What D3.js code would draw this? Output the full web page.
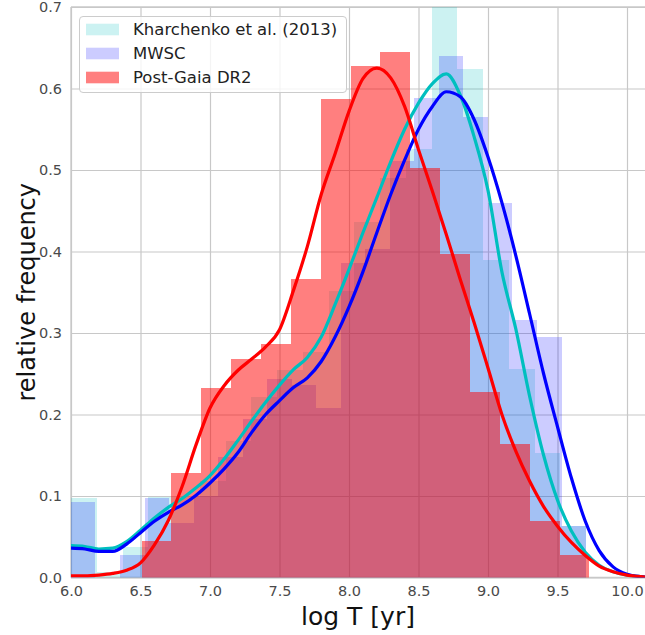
<!DOCTYPE html>
<html>
<head>
<meta charset="utf-8">
<script src="https://cdn.jsdelivr.net/npm/d3@7"></script>
<style>
  html, body { margin: 0; padding: 0; background: #ffffff; }
  svg { display: block; }
  text { font-family: "DejaVu Sans", sans-serif; }
</style>
</head>
<body>
<svg id="chart" width="645" height="635"></svg>
<script>
// ---------------- data ----------------
const seriesNames = ["Kharchenko et al. (2013)", "MWSC", "Post-Gaia DR2"];

// Kharchenko et al. (2013): 20 bins
const kharEdges = [6.000, 6.185, 6.371, 6.556, 6.741, 6.926, 7.112, 7.297, 7.482, 7.667,
                   7.853, 8.038, 8.223, 8.408, 8.594, 8.779, 8.964, 9.149, 9.335, 9.520, 9.705];
const kharHeights = [0.097, 0.007, 0.038, 0.099, 0.099, 0.118, 0.168, 0.222, 0.255, 0.277,
                     0.351, 0.436, 0.490, 0.526, 0.705, 0.624, 0.390, 0.256, 0.153, 0.063];

// MWSC: 21 bins
const mwscEdges = [6.000, 6.176, 6.353, 6.529, 6.706, 6.882, 7.059, 7.235, 7.412, 7.588, 7.765,
                   7.941, 8.117, 8.294, 8.470, 8.647, 8.823, 9.000, 9.176, 9.353, 9.529, 9.705];
const mwscHeights = [0.093, 0.000, 0.027, 0.098, 0.067, 0.100, 0.148, 0.195, 0.244, 0.236, 0.208,
                     0.386, 0.403, 0.511, 0.588, 0.640, 0.565, 0.459, 0.316, 0.295, 0.063];

// Post-Gaia DR2: 15 bins
const gaiaEdges = [6.508, 6.723, 6.938, 7.152, 7.367, 7.582, 7.797, 8.012, 8.226, 8.441,
                   8.656, 8.871, 9.086, 9.300, 9.515, 9.730];
const gaiaHeights = [0.045, 0.128, 0.233, 0.268, 0.286, 0.366, 0.587, 0.628, 0.645, 0.503,
                     0.397, 0.228, 0.164, 0.069, 0.027];

// KDE curves sampled along log T
const kdeX = [6.0, 6.1, 6.2, 6.3, 6.4, 6.5, 6.6, 6.7, 6.8, 6.9,
              7.0, 7.1, 7.2, 7.3, 7.4, 7.5, 7.6, 7.7, 7.8, 7.9,
              8.0, 8.1, 8.2, 8.3, 8.4, 8.5, 8.6, 8.7, 8.8, 8.9,
              9.0, 9.1, 9.2, 9.3, 9.4, 9.5, 9.6, 9.7, 9.8, 9.9,
              10.0, 10.1, 10.2];
const kharKde = [0.039, 0.038, 0.035, 0.036, 0.044, 0.058, 0.073, 0.086, 0.097, 0.110,
                 0.125, 0.145, 0.168, 0.192, 0.215, 0.236, 0.255, 0.270, 0.295, 0.335,
                 0.378, 0.423, 0.466, 0.510, 0.550, 0.582, 0.606, 0.618, 0.592, 0.541,
                 0.475, 0.375, 0.305, 0.222, 0.150, 0.095, 0.057, 0.031, 0.015, 0.007,
                 0.003, 0.001, 0.000];
const mwscKde = [0.036, 0.035, 0.032, 0.032, 0.041, 0.055, 0.069, 0.080, 0.089, 0.101,
                 0.116, 0.133, 0.153, 0.178, 0.200, 0.217, 0.233, 0.245, 0.265, 0.295,
                 0.332, 0.375, 0.423, 0.470, 0.512, 0.550, 0.578, 0.596, 0.590, 0.562,
                 0.516, 0.460, 0.395, 0.323, 0.250, 0.185, 0.122, 0.069, 0.033, 0.013,
                 0.004, 0.001, 0.000];
const gaiaKde = [0.002, 0.002, 0.003, 0.005, 0.009, 0.018, 0.040, 0.070, 0.112, 0.163,
                 0.208, 0.235, 0.254, 0.268, 0.283, 0.304, 0.352, 0.406, 0.470, 0.520,
                 0.572, 0.612, 0.625, 0.613, 0.578, 0.525, 0.474, 0.421, 0.366, 0.313,
                 0.257, 0.200, 0.155, 0.118, 0.087, 0.063, 0.043, 0.027, 0.014, 0.007,
                 0.003, 0.001, 0.000];

const xTicks = [6.0, 6.5, 7.0, 7.5, 8.0, 8.5, 9.0, 9.5, 10.0];
const yTicks = [0.0, 0.1, 0.2, 0.3, 0.4, 0.5, 0.6, 0.7];
const xLabel = "log T [yr]";
const yLabel = "relative frequency";

// ---------------- layout / style ----------------
const W = 645, H = 635;
const plot = { left: 71, right: 645, top: 7, bottom: 577.5 };
const x = d3.scaleLinear().domain([6, 10]).range([71, 627]);
const y = d3.scaleLinear().domain([0, 0.7]).range([plot.bottom, plot.top]);

const styles = [
  { fill: "#00bfbf", alpha: 0.2, line: "#00bfbf" },
  { fill: "#0000ff", alpha: 0.2, line: "#0000ff" },
  { fill: "#ff0000", alpha: 0.5, line: "#ff0000" }
];

const svg = d3.select("#chart");
svg.append("defs").append("clipPath").attr("id", "clip")
  .append("rect")
  .attr("x", plot.left).attr("y", plot.top)
  .attr("width", plot.right - plot.left).attr("height", plot.bottom - plot.top);

// grid via axes
const gridColor = "#c8c8c8";
const yAxis = d3.axisLeft(y).tickValues(yTicks).tickFormat(d3.format(".1f"))
  .tickSize(-(plot.right - plot.left)).tickPadding(9);
const gy = svg.append("g").attr("transform", `translate(${plot.left},0)`).call(yAxis);
gy.select(".domain").remove();
gy.selectAll(".tick line").attr("stroke", gridColor).attr("stroke-width", 1.2);
gy.selectAll(".tick text").attr("fill", "#4a4a4a").style("font-size", "14.5px")
  .style("font-family", "'DejaVu Sans', sans-serif");

const xAxis = d3.axisBottom(x).tickValues(xTicks).tickFormat(d3.format(".1f"))
  .tickSize(-(plot.bottom - plot.top)).tickPadding(8);
const gx = svg.append("g").attr("transform", `translate(0,${plot.bottom})`).call(xAxis);
gx.select(".domain").remove();
gx.selectAll(".tick line").attr("stroke", gridColor).attr("stroke-width", 1.2);
gx.selectAll(".tick text").attr("fill", "#4a4a4a").style("font-size", "14.5px")
  .style("font-family", "'DejaVu Sans', sans-serif");

// spines (left, bottom, top)
svg.append("line").attr("x1", plot.left).attr("x2", plot.left)
  .attr("y1", plot.top).attr("y2", plot.bottom).attr("stroke", gridColor).attr("stroke-width", 1.3);
svg.append("line").attr("x1", plot.left).attr("x2", plot.right)
  .attr("y1", plot.bottom).attr("y2", plot.bottom).attr("stroke", gridColor).attr("stroke-width", 1.3);
svg.append("line").attr("x1", plot.left).attr("x2", plot.right)
  .attr("y1", plot.top).attr("y2", plot.top).attr("stroke", gridColor).attr("stroke-width", 1.3);

// histograms
const histData = [
  { edges: kharEdges, heights: kharHeights },
  { edges: mwscEdges, heights: mwscHeights },
  { edges: gaiaEdges, heights: gaiaHeights }
];
const gBars = svg.append("g").attr("clip-path", "url(#clip)");
histData.forEach((h, si) => {
  const bins = h.heights.map((v, i) => ({ x0: h.edges[i], x1: h.edges[i + 1], v }));
  gBars.append("g").selectAll("rect").data(bins).join("rect")
    .attr("x", d => x(d.x0))
    .attr("width", d => x(d.x1) - x(d.x0))
    .attr("y", d => y(d.v))
    .attr("height", d => y(0) - y(d.v))
    .attr("fill", styles[si].fill)
    .attr("fill-opacity", styles[si].alpha)
    .attr("shape-rendering", "crispEdges");
});

// KDE lines
const kdes = [kharKde, mwscKde, gaiaKde];
const line = d3.line().x(d => x(d[0])).y(d => y(d[1])).curve(d3.curveMonotoneX);
const gLines = svg.append("g").attr("clip-path", "url(#clip)");
kdes.forEach((k, si) => {
  gLines.append("path")
    .datum(kdeX.map((xv, i) => [xv, k[i]]))
    .attr("d", line)
    .attr("fill", "none")
    .attr("stroke", styles[si].line)
    .attr("stroke-width", 3.2)
    .attr("stroke-linejoin", "round")
    .attr("stroke-linecap", "round");
});

// axis labels
svg.append("text").attr("x", (plot.left + plot.right) / 2).attr("y", 625)
  .attr("text-anchor", "middle").style("font-size", "25px").attr("fill", "#111")
  .text(xLabel);
svg.append("text").attr("transform", `translate(35,${(plot.top + plot.bottom) / 2}) rotate(-90)`)
  .attr("text-anchor", "middle").style("font-size", "24px").attr("fill", "#111")
  .text(yLabel);

// legend
const lg = svg.append("g");
lg.append("rect").attr("x", 79.5).attr("y", 16.5).attr("width", 267).attr("height", 76)
  .attr("rx", 3.5).attr("fill", "#ffffff").attr("fill-opacity", 0.8)
  .attr("stroke", "#cccccc").attr("stroke-width", 1);
const rowY = [29.5, 53.5, 77.5];
seriesNames.forEach((name, i) => {
  lg.append("rect").attr("x", 86).attr("y", rowY[i] - 5.8).attr("width", 33).attr("height", 11.6)
    .attr("fill", styles[i].fill).attr("fill-opacity", styles[i].alpha);
  lg.append("text").attr("x", 133).attr("y", rowY[i]).attr("dy", "0.36em")
    .style("font-size", "16.5px").attr("fill", "#222").text(name);
});
</script>
</body>
</html>
